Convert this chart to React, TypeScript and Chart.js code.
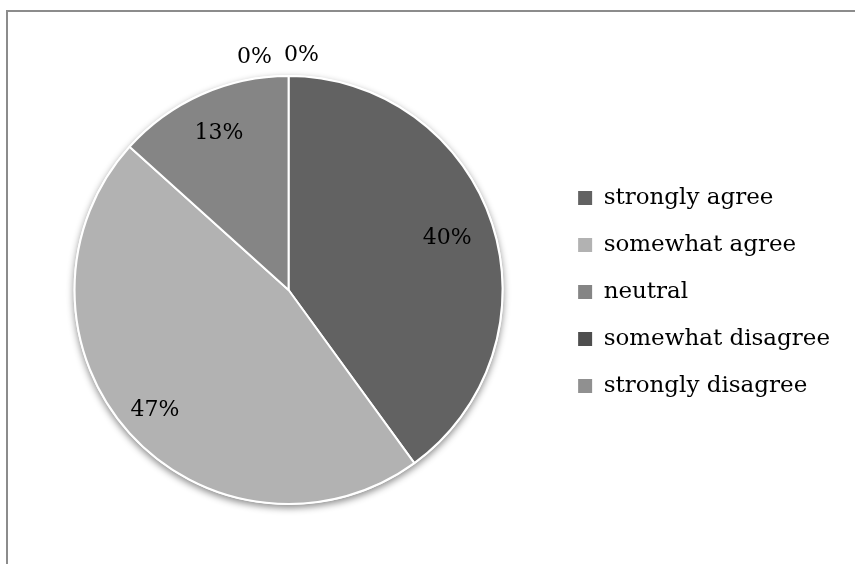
import React, { useEffect, useRef } from "react";
import { Chart, registerables } from "chart.js";

Chart.register(...registerables);

const categories = ["strongly agree", "somewhat agree", "neutral", "somewhat disagree", "strongly disagree"];
const counts = [6, 7, 2, 0, 0];
const colors = ["#626262", "#b2b2b2", "#858585", "#4e4e4e", "#909090"];

const FONT = "'DejaVu Serif', serif";

const shadowPlugin = {
  id: "pieShadow",
  beforeDatasetsDraw(chart: any) {
    const meta = chart.getDatasetMeta(0);
    const arc = meta.data[0];
    if (!arc) return;
    const { x, y, outerRadius } = arc.getProps(["x", "y", "outerRadius"], true);
    const ctx = chart.ctx;
    ctx.save();
    ctx.shadowColor = "rgba(0,0,0,0.45)";
    ctx.shadowBlur = 7;
    ctx.shadowOffsetY = 3;
    ctx.fillStyle = "#ffffff";
    ctx.beginPath();
    ctx.arc(x, y, outerRadius + 1, 0, Math.PI * 2);
    ctx.fill();
    ctx.restore();
  },
};

const labelPlugin = {
  id: "pctLabels",
  afterDatasetsDraw(chart: any) {
    const meta = chart.getDatasetMeta(0);
    const ctx = chart.ctx;
    const total = counts.reduce((a, b) => a + b, 0);
    ctx.save();
    ctx.font = `22px ${FONT}`;
    ctx.fillStyle = "#000";
    ctx.textAlign = "center";
    ctx.textBaseline = "middle";
    let zeroIdx = 0;
    meta.data.forEach((arc: any, i: number) => {
      const { x, y, startAngle, endAngle, outerRadius } = arc.getProps(
        ["x", "y", "startAngle", "endAngle", "outerRadius"],
        true
      );
      const v = counts[i];
      const text = Math.round((v / total) * 100) + "%";
      let lx: number, ly: number;
      if (v > 0) {
        const mid = (startAngle + endAngle) / 2;
        const k = i === 1 ? 0.84 : i === 2 ? 0.8 : 0.78;
        lx = x + Math.cos(mid) * outerRadius * k;
        ly = y + Math.sin(mid) * outerRadius * k;
      } else {
        const offs = [
          [-34, -(outerRadius + 19)],
          [13, -(outerRadius + 21)],
        ];
        const o = offs[Math.min(zeroIdx, 1)];
        lx = x + o[0];
        ly = y + o[1];
        zeroIdx++;
      }
      ctx.fillText(text, lx, ly);
    });
    ctx.restore();
  },
};

export default function App() {
  const ref = useRef<HTMLCanvasElement>(null);
  useEffect(() => {
    if (!ref.current) return;
    const chart = new Chart(ref.current, {
      type: "pie",
      data: {
        labels: categories,
        datasets: [
          {
            data: counts,
            backgroundColor: colors,
            borderColor: "#ffffff",
            borderWidth: 2,
          },
        ],
      },
      options: {
        responsive: false,
        animation: false,
        layout: { padding: { left: 23, top: 75, bottom: 59, right: 15 } },
        plugins: {
          legend: {
            position: "right",
            title: {
              display: true,
              text: "",
              color: "#000",
              font: { size: 1 },
              padding: { top: 0, bottom: 3 },
            },
            labels: {
              boxWidth: 14,
              boxHeight: 14,
              padding: 24,
              color: "#000",
              font: { family: FONT, size: 23 },
              generateLabels: () =>
                categories.map((t, i) => ({
                  text: t,
                  fillStyle: colors[i],
                  strokeStyle: colors[i],
                  fontColor: "#000",
                  lineWidth: 0,
                  hidden: false,
                  index: i,
                })),
            },
          },
          tooltip: { enabled: false },
        },
      } as any,
      plugins: [shadowPlugin, labelPlugin],
    });
    return () => chart.destroy();
  }, []);

  return (
    <div
      style={{
        position: "fixed",
        left: 0,
        top: 0,
        width: 855,
        height: 564,
        background: "#fff",
        overflow: "hidden",
      }}
    >
      <div
        style={{
          position: "absolute",
          left: 6,
          top: 10,
          width: 900,
          height: 620,
          border: "2px solid #8c8c8c",
          boxSizing: "border-box",
        }}
      />
      <canvas
        ref={ref}
        width={855}
        height={564}
        style={{ position: "absolute", left: 0, top: 0, width: 855, height: 564 }}
      />
    </div>
  );
}
